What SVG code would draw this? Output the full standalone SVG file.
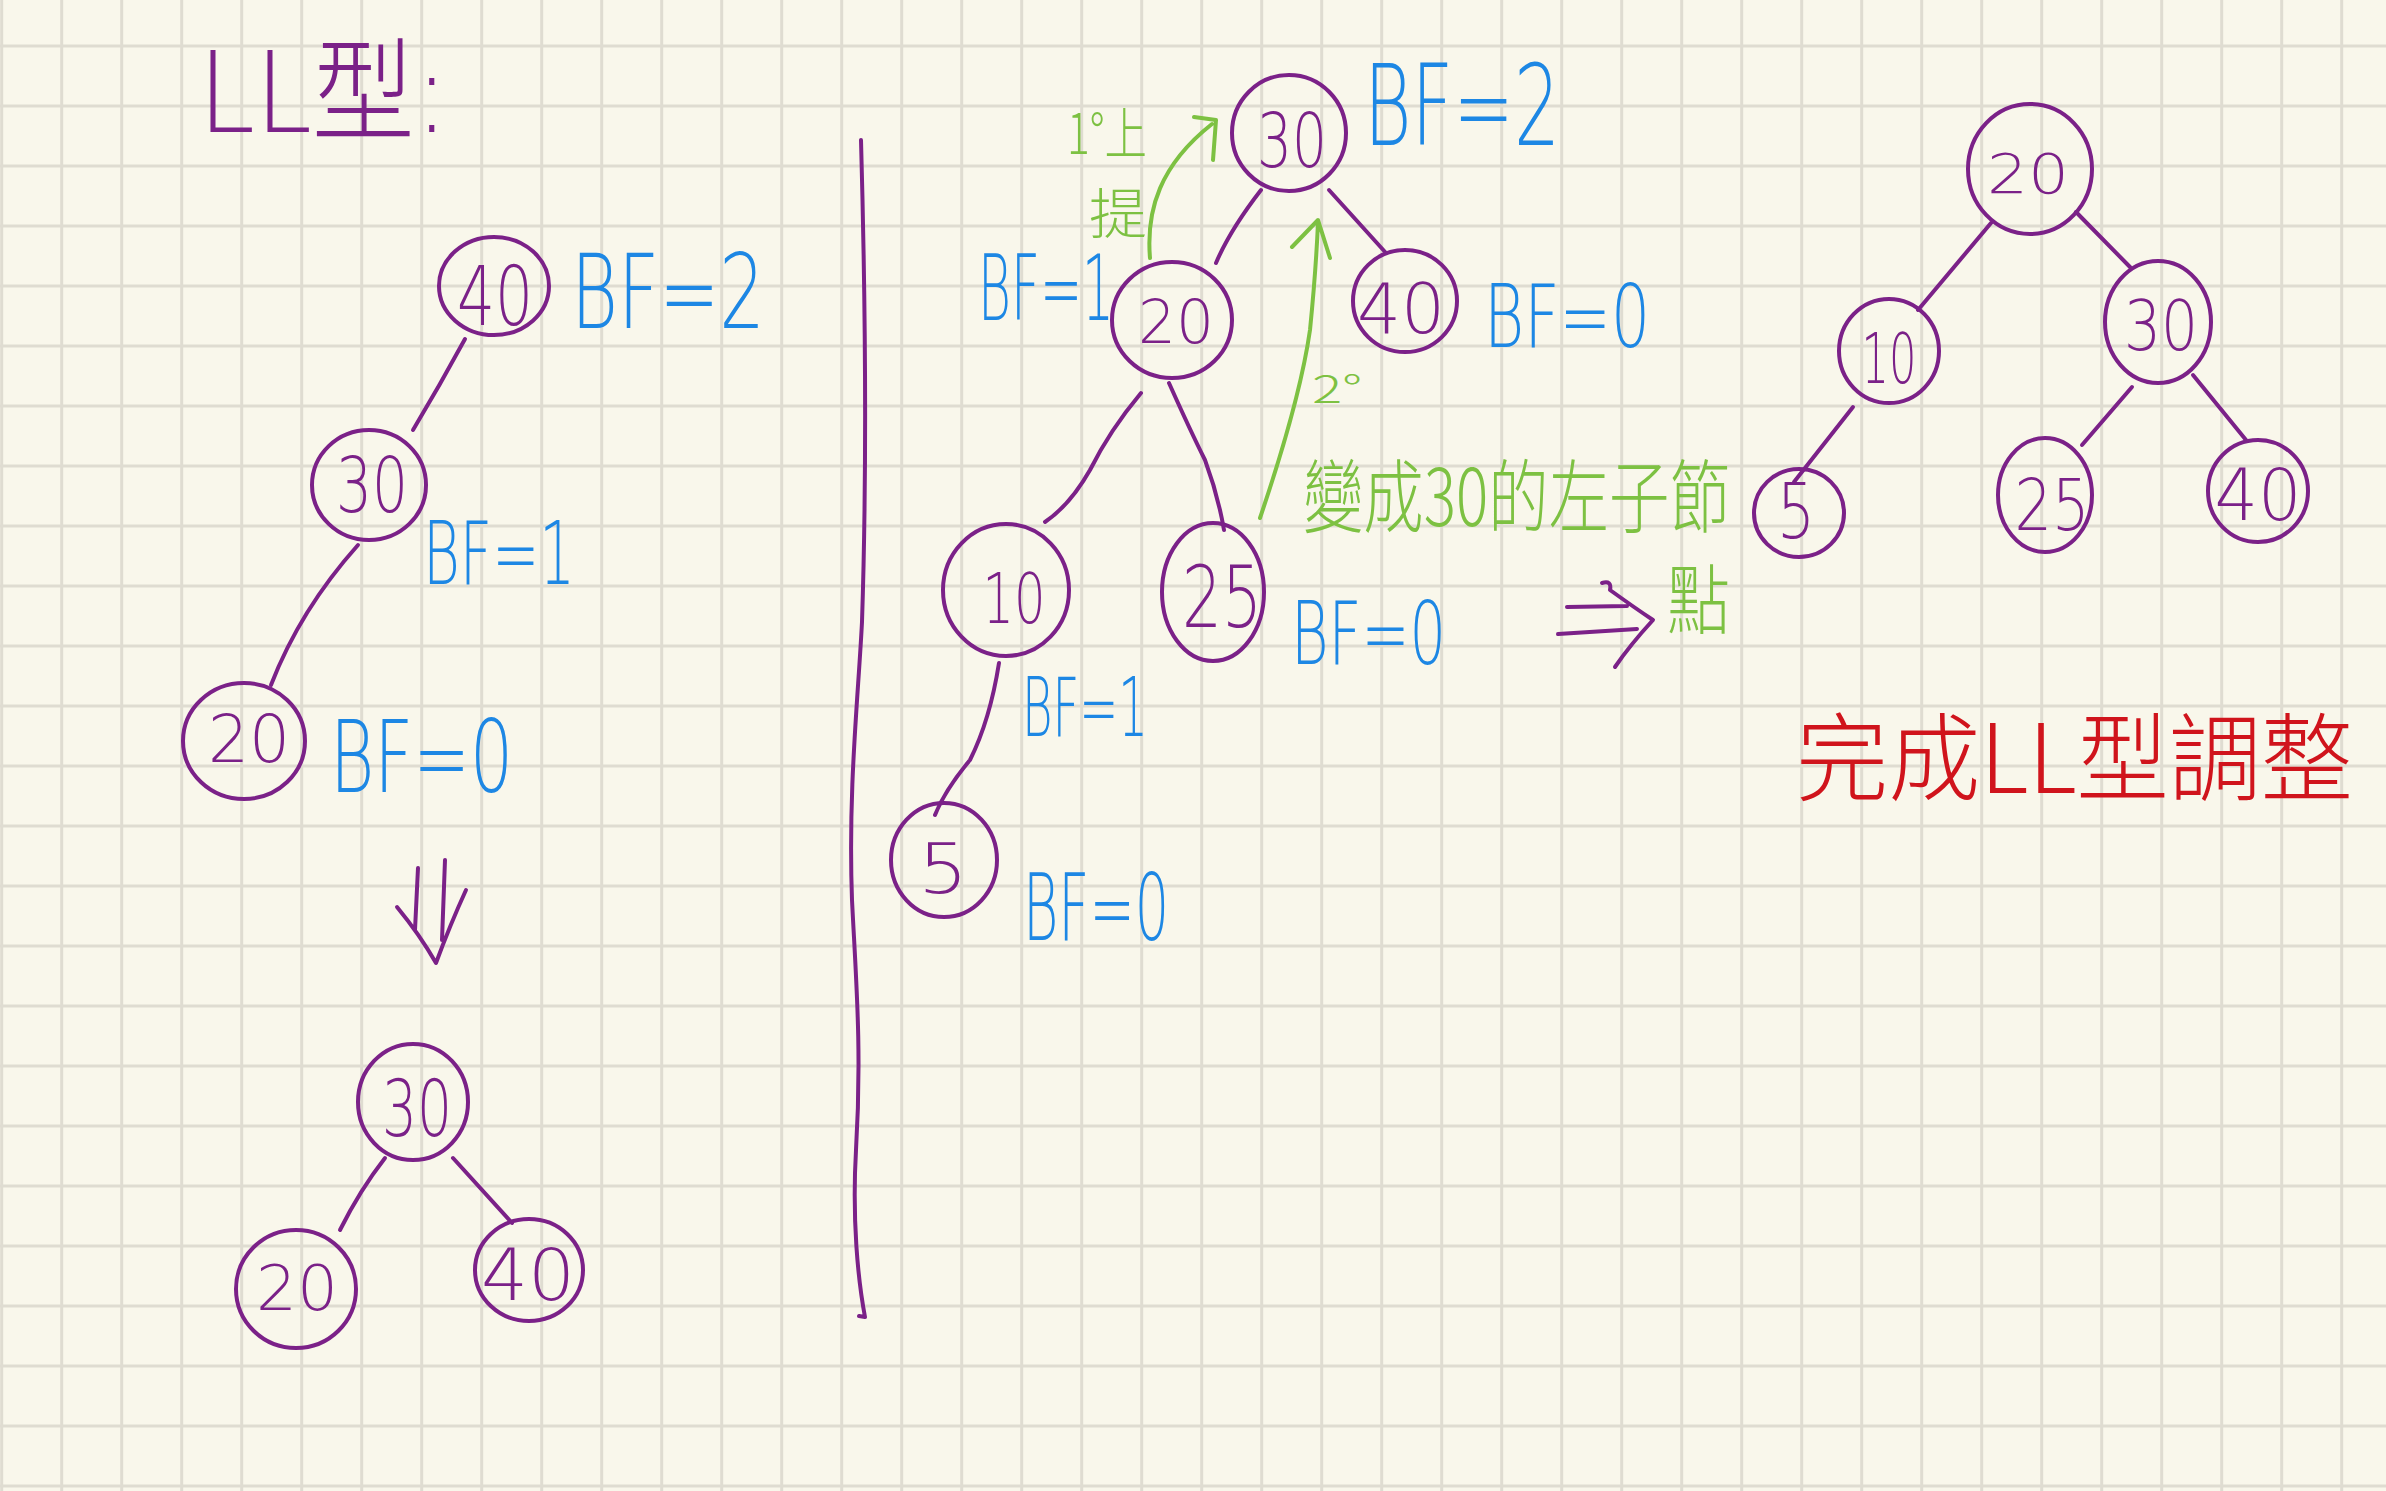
<svg xmlns="http://www.w3.org/2000/svg" width="2386" height="1491" viewBox="0 0 2386 1491">
<defs>
<pattern id="grid" patternUnits="userSpaceOnUse" x="0.2" y="44.5" width="60" height="60">
<rect x="0" y="0" width="3" height="60" fill="#dfdcd1"/>
<rect x="0" y="0" width="60" height="3" fill="#dfdcd1"/>
</pattern>
<style>
.node ellipse{fill:none;stroke:#7b2188;stroke-width:4}
.num{font-family:"DejaVu Sans","Liberation Sans",sans-serif;font-weight:200;fill:#7b2188;text-anchor:middle}
.bf{font-family:"DejaVu Sans","Liberation Sans",sans-serif;font-weight:200;fill:#1d87e4}
.edge{fill:none;stroke:#7b2188;stroke-width:4;stroke-linecap:round;stroke-linejoin:round}
.gline{fill:none;stroke:#7dc142;stroke-width:4;stroke-linecap:round;stroke-linejoin:round}
.gtext{font-family:"Noto Sans CJK TC","Noto Sans CJK SC",sans-serif;font-weight:300;fill:#7dc142}
.ptext{font-family:"DejaVu Sans","Noto Sans CJK TC",sans-serif;font-weight:200;fill:#7b2188}
.rtext{font-family:"Noto Sans CJK TC","Noto Sans CJK SC",sans-serif;font-weight:300;fill:#d0141c}
</style>
</defs>
<rect width="2386" height="1491" fill="#f9f7eb"/>
<rect width="2386" height="1491" fill="url(#grid)"/>

<text class="ptext" x="198" y="132" font-size="112" textLength="251" lengthAdjust="spacingAndGlyphs">LL型:</text>

<g id="connectors">
<path class="edge" d="M465,339 Q440,385 413,430"/>
<path class="edge" d="M358,545 Q300,610 271,685"/>
<path class="edge" d="M418,868 L415,930 M445,860 L442,940 M397,907 Q420,935 436,963 Q450,925 466,890"/>
<path class="edge" d="M385,1158 Q360,1190 340,1230"/>
<path class="edge" d="M453,1158 L512,1223"/>
<path class="edge" d="M861,140 C866,320 866,500 862,622 C858,700 848,790 852,900 C856,980 862,1050 856,1150 C852,1220 858,1280 865,1317 L859,1316"/>
<path class="edge" d="M1261,190 Q1230,230 1216,263"/>
<path class="edge" d="M1329,190 L1386,253"/>
<path class="edge" d="M1141,393 Q1110,430 1090,470 Q1070,505 1045,522"/>
<path class="edge" d="M1169,383 Q1190,430 1205,460 Q1218,495 1224,530"/>
<path class="edge" d="M999,663 Q990,720 970,760 Q945,790 935,815"/>
<path class="edge" d="M1567,607 L1627,606 M1558,634 L1637,629 M1602,583 Q1612,580 1610,590 Q1635,608 1653,620 Q1630,645 1615,667"/>
<path class="edge" d="M1991,223 L1918,310"/>
<path class="edge" d="M2076,212 L2130,267"/>
<path class="edge" d="M1853,407 L1794,482"/>
<path class="edge" d="M2132,387 L2082,445"/>
<path class="edge" d="M2193,375 L2246,440"/>
<path class="gline" d="M1150,258 C1146,210 1160,165 1212,124 M1194,117 L1216,120 L1213,160"/>
<path class="gline" d="M1260,518 Q1300,400 1310,330 Q1316,270 1318,222 M1292,247 L1318,220 L1330,258"/>
</g>

<g id="left-40" class="node"><ellipse cx="494" cy="286" rx="55" ry="49"/><text class="num" x="495" y="325" font-size="82" textLength="76" lengthAdjust="spacingAndGlyphs">40</text><text class="bf" x="571" y="328" font-size="104" textLength="194" lengthAdjust="spacingAndGlyphs">BF=2</text></g>
<g id="left-30" class="node"><ellipse cx="369" cy="485" rx="57" ry="55"/><text class="num" x="372" y="512" font-size="76" textLength="72" lengthAdjust="spacingAndGlyphs">30</text><text class="bf" x="423" y="584" font-size="88" textLength="152" lengthAdjust="spacingAndGlyphs">BF=1</text></g>
<g id="left-20" class="node"><ellipse cx="244" cy="741" rx="61" ry="58"/><text class="num" x="249" y="762" font-size="66" textLength="82" lengthAdjust="spacingAndGlyphs">20</text><text class="bf" x="330" y="792" font-size="100" textLength="183" lengthAdjust="spacingAndGlyphs">BF=0</text></g>

<g id="result-30" class="node"><ellipse cx="413" cy="1102" rx="55" ry="58"/><text class="num" x="417" y="1136" font-size="78" textLength="70" lengthAdjust="spacingAndGlyphs">30</text></g>
<g id="result-20" class="node"><ellipse cx="296" cy="1289" rx="60" ry="59"/><text class="num" x="297" y="1310" font-size="62" textLength="82" lengthAdjust="spacingAndGlyphs">20</text></g>
<g id="result-40" class="node"><ellipse cx="529" cy="1270" rx="54" ry="51"/><text class="num" x="528" y="1300" font-size="72" textLength="94" lengthAdjust="spacingAndGlyphs">40</text></g>

<g id="mid-30" class="node"><ellipse cx="1289" cy="133" rx="57" ry="58"/><text class="num" x="1292" y="167" font-size="74" textLength="70" lengthAdjust="spacingAndGlyphs">30</text><text class="bf" x="1364" y="145" font-size="112" textLength="196" lengthAdjust="spacingAndGlyphs">BF=2</text></g>
<g id="mid-20" class="node"><ellipse cx="1172" cy="320" rx="60" ry="58"/><text class="num" x="1176" y="343" font-size="60" textLength="76" lengthAdjust="spacingAndGlyphs">20</text><text class="bf" transform="translate(978,320) scale(0.56,1)" x="0" y="0" font-size="90" textLength="243" lengthAdjust="spacingAndGlyphs">BF=1</text></g>
<g id="mid-40" class="node"><ellipse cx="1405" cy="301" rx="52" ry="51"/><text class="num" x="1401" y="333" font-size="70" textLength="88" lengthAdjust="spacingAndGlyphs">40</text><text class="bf" x="1484" y="347" font-size="88" textLength="166" lengthAdjust="spacingAndGlyphs">BF=0</text></g>
<g id="mid-10" class="node"><ellipse cx="1006" cy="590" rx="63" ry="66"/><text class="num" x="1014" y="623" font-size="70" textLength="63" lengthAdjust="spacingAndGlyphs">10</text><text class="bf" x="1022" y="736" font-size="82" textLength="126" lengthAdjust="spacingAndGlyphs">BF=1</text></g>
<g id="mid-25" class="node"><ellipse cx="1213" cy="592" rx="51" ry="69"/><text class="num" x="1222" y="627" font-size="85" textLength="80" lengthAdjust="spacingAndGlyphs">25</text><text class="bf" x="1291" y="664" font-size="88" textLength="155" lengthAdjust="spacingAndGlyphs">BF=0</text></g>
<g id="mid-5" class="node"><ellipse cx="944" cy="860" rx="53" ry="57"/><text class="num" x="943" y="893" font-size="70" textLength="50" lengthAdjust="spacingAndGlyphs">5</text><text class="bf" x="1023" y="940" font-size="92" textLength="146" lengthAdjust="spacingAndGlyphs">BF=0</text></g>

<g id="right-20" class="node"><ellipse cx="2030" cy="169" rx="62" ry="65"/><text class="num" x="2028" y="193" font-size="55" textLength="82" lengthAdjust="spacingAndGlyphs">20</text></g>
<g id="right-10" class="node"><ellipse cx="1889" cy="351" rx="50" ry="52"/><text class="num" x="1889" y="383" font-size="70" textLength="55" lengthAdjust="spacingAndGlyphs">10</text></g>
<g id="right-30" class="node"><ellipse cx="2158" cy="322" rx="53" ry="61"/><text class="num" x="2161" y="350" font-size="70" textLength="74" lengthAdjust="spacingAndGlyphs">30</text></g>
<g id="right-5" class="node"><ellipse cx="1799" cy="513" rx="45" ry="44"/><text class="num" x="1796" y="538" font-size="76" textLength="38" lengthAdjust="spacingAndGlyphs">5</text></g>
<g id="right-25" class="node"><ellipse cx="2045" cy="495" rx="47" ry="57"/><text class="num" x="2052" y="530" font-size="72" textLength="75" lengthAdjust="spacingAndGlyphs">25</text></g>
<g id="right-40" class="node"><ellipse cx="2258" cy="491" rx="50" ry="51"/><text class="num" x="2258" y="520" font-size="72" textLength="87" lengthAdjust="spacingAndGlyphs">40</text></g>

<g id="annotations">
<text class="gtext" x="1067" y="154" font-size="56" textLength="80" lengthAdjust="spacingAndGlyphs">1°上</text>
<text class="gtext" x="1089" y="234" font-size="54" textLength="58" lengthAdjust="spacingAndGlyphs">提</text>
<text class="gtext" x="1312" y="403" font-size="38" textLength="50" lengthAdjust="spacingAndGlyphs">2°</text>
<text class="gtext" transform="translate(1303,526) scale(0.75,1)" x="0" y="0" font-size="80" textLength="569" lengthAdjust="spacingAndGlyphs">變成30的左子節</text>
<text class="gtext" x="1667" y="628" font-size="76" textLength="63" lengthAdjust="spacingAndGlyphs">點</text>
<text class="rtext" x="1796" y="793" font-size="96" textLength="557" lengthAdjust="spacingAndGlyphs">完成LL型調整</text>
</g>
</svg>
